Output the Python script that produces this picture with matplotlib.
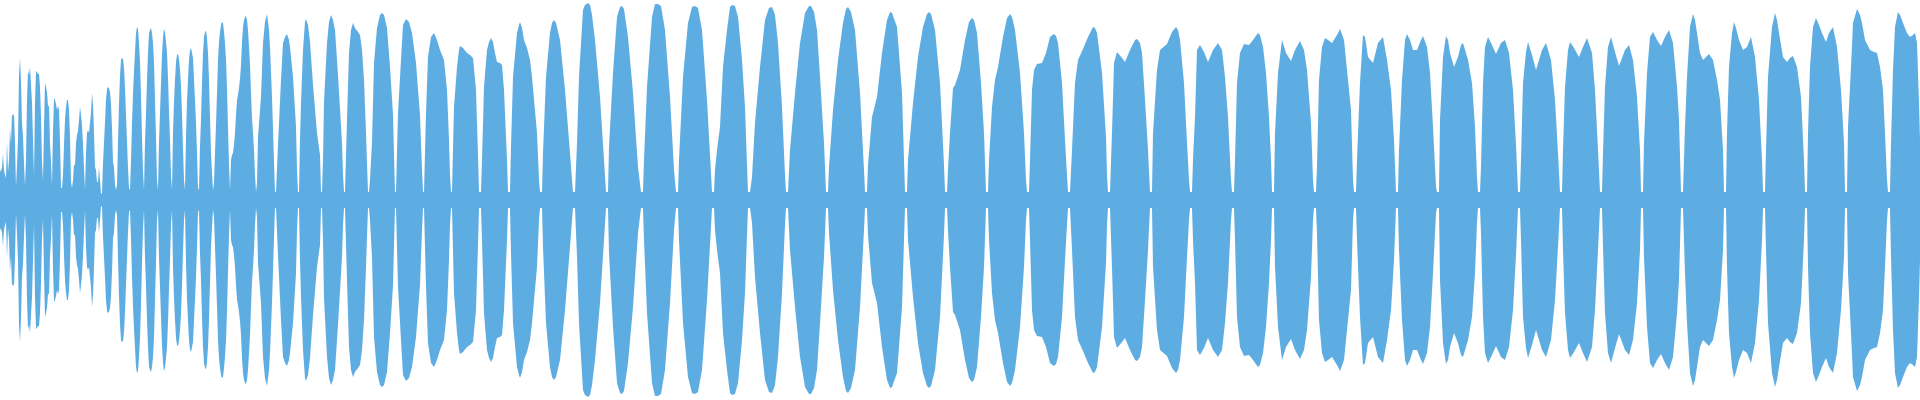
import numpy as np
import matplotlib
matplotlib.use("Agg")
import matplotlib.pyplot as plt

# waveform peak levels (full scale = 200)
# intro: one value per sample column 0..255
level_intro = [
    28, 30, 32, 46, 30, 25, 22, 58, 28, 40, 71, 56, 86, 84, 86, 56,
    13, 35, 60, 125, 142, 119, 77, 64, 36, 14, 40, 100, 129, 125, 133, 115,
    97, 60, 25, 96, 129, 128, 126, 126, 113, 82, 38, 20, 73, 117, 113, 108,
    94, 94, 56, 38, 15, 69, 102, 100, 96, 90, 94, 90, 59, 12, 12, 25,
    55, 80, 93, 100, 100, 90, 63, 18, 12, 20, 35, 35, 57, 65, 69, 80,
    93, 85, 75, 55, 32, 10, 47, 67, 70, 67, 77, 87, 107, 95, 67, 33,
    30, 18, 18, 33, 20, 6, 7, 37, 57, 78, 100, 111, 113, 112, 108, 96,
    72, 38, 33, 15, 10, 15, 58, 96, 124, 140, 142, 141, 132, 112, 85, 58,
    32, 12, 10, 38, 77, 106, 129, 148, 167, 173, 171, 157, 138, 104, 63, 29,
    10, 58, 86, 120, 147, 167, 170, 172, 167, 157, 138, 100, 62, 20, 10, 57,
    87, 117, 145, 163, 171, 168, 158, 147, 122, 88, 60, 25, 10, 67, 98, 120,
    138, 145, 146, 141, 130, 114, 87, 51, 20, 10, 63, 99, 121, 140, 150, 152,
    147, 142, 121, 100, 77, 47, 12, 10, 53, 80, 117, 147, 163, 168, 169, 162,
    147, 120, 82, 47, 27, 10, 17, 47, 75, 107, 140, 158, 168, 175, 178, 177,
    168, 157, 140, 112, 72, 35, 10, 40, 45, 47, 55, 67, 85, 100, 105, 112,
    121, 135, 158, 173, 180, 183, 184, 180, 170, 153, 135, 107, 82, 67, 50, 25,
]

# middle section: (sample, level) key points, one lobe per line
points_mid = [
    (256, 8), (257, 17), (258, 63), (261, 103), (263, 157), (265, 178), (267, 186), (269, 170), (270, 153), (272, 103), (274, 38), (275, 8),
    (276, 8), (278, 55), (281, 120), (283, 157), (285, 163), (287, 166), (289, 160), (290, 153), (293, 123), (296, 73), (297, 30), (298, 8),
    (299, 8), (300, 60), (301, 97), (303, 150), (305, 178), (306, 181), (308, 175), (310, 158), (313, 115), (317, 67), (320, 45), (321, 8),
    (322, 8), (323, 40), (324, 98), (327, 157), (329, 178), (331, 185), (333, 180), (335, 170), (338, 125), (342, 57), (343, 25), (344, 8),
    (345, 8), (347, 80), (349, 147), (351, 170), (353, 177), (355, 172), (358, 168), (360, 165), (362, 150), (364, 120), (366, 67), (368, 8),
    (369, 8), (370, 20), (372, 58), (374, 137), (377, 172), (380, 185), (382, 187), (384, 185), (387, 172), (390, 133), (393, 85), (394, 45), (395, 8),
    (396, 8), (398, 87), (401, 140), (403, 175), (406, 181), (409, 178), (412, 167), (416, 137), (420, 85), (422, 30), (423, 8),
    (424, 8), (426, 87), (428, 143), (431, 163), (434, 167), (437, 160), (440, 150), (444, 140), (447, 110), (449, 60), (450, 25), (451, 8),
    (452, 8), (454, 93), (457, 133), (459, 150), (460, 154), (463, 152), (467, 147), (470, 145), (473, 142), (476, 110), (478, 45), (479, 8),
    (481, 8), (482, 40), (484, 113), (487, 150), (489, 158), (491, 162), (493, 158), (495, 147), (497, 138), (500, 137), (502, 135), (504, 110), (507, 40), (508, 8),
    (510, 8), (511, 53), (513, 123), (517, 167), (519, 175), (520, 178), (522, 172), (524, 160), (527, 152), (530, 140), (532, 123), (537, 67), (539, 20), (540, 8),
    (542, 8), (543, 47), (546, 123), (550, 167), (552, 177), (554, 180), (556, 177), (560, 160), (565, 110), (570, 47), (572, 20), (573, 8),
    (575, 8), (577, 57), (579, 123), (583, 190), (585, 195), (588, 197), (590, 195), (592, 185), (595, 160), (600, 103), (604, 40), (606, 8),
    (608, 8), (609, 53), (613, 127), (617, 183), (620, 193), (622, 194), (624, 191), (628, 163), (633, 107), (638, 33), (641, 8),
    (643, 8), (644, 40), (647, 113), (652, 183), (655, 196), (658, 196), (661, 194), (665, 170), (670, 103), (674, 30), (676, 8),
    (678, 8), (679, 40), (683, 123), (688, 177), (692, 193), (695, 194), (698, 192), (702, 170), (707, 100), (711, 27), (712, 8),
    (714, 8), (715, 30), (717, 50), (720, 73), (723, 133), (727, 170), (730, 193), (732, 195), (735, 194), (738, 183), (742, 140), (745, 93), (747, 35), (748, 8),
    (750, 8), (752, 23), (755, 77), (760, 133), (765, 180), (769, 192), (772, 193), (775, 185), (778, 157), (782, 93), (785, 25), (786, 8),
    (788, 8), (790, 50), (795, 107), (800, 157), (805, 187), (809, 194), (811, 194), (814, 188), (817, 170), (820, 123), (824, 57), (826, 8),
    (828, 8), (829, 33), (833, 90), (838, 140), (843, 177), (846, 191), (848, 193), (851, 188), (855, 170), (860, 107), (864, 30), (865, 8),
    (867, 8), (868, 35), (872, 83), (877, 103), (882, 147), (887, 180), (890, 188), (892, 187), (897, 173), (902, 107), (904, 40), (905, 8),
    (907, 8), (908, 40), (913, 97), (918, 143), (923, 173), (927, 186), (929, 188), (931, 186), (935, 170), (940, 117), (944, 35), (945, 8),
    (947, 8), (948, 30), (950, 67), (953, 112), (955, 115), (960, 130), (965, 160), (969, 178), (972, 182), (974, 180), (977, 167), (981, 117), (984, 67), (986, 8),
]

# late section: (sample, level) key points, one lobe per line
points_late = [
    (988, 8), (989, 40), (992, 93), (995, 120), (998, 133), (1003, 163), (1007, 182), (1010, 186), (1012, 183), (1015, 170), (1020, 127), (1024, 67), (1026, 20), (1027, 8),
    (1029, 8), (1030, 40), (1032, 110), (1034, 130), (1037, 136), (1042, 137), (1046, 147), (1050, 163), (1054, 166), (1056, 164), (1058, 157), (1062, 117), (1065, 60), (1067, 25), (1068, 8),
    (1070, 8), (1072, 50), (1075, 117), (1078, 140), (1083, 151), (1088, 163), (1093, 173), (1095, 172), (1097, 167), (1102, 127), (1106, 63), (1107, 25), (1108, 8),
    (1110, 8), (1112, 67), (1114, 137), (1117, 148), (1122, 142), (1125, 138), (1130, 150), (1135, 160), (1137, 161), (1140, 157), (1142, 147), (1145, 100), (1148, 50), (1150, 8),
    (1152, 8), (1153, 67), (1157, 130), (1160, 150), (1167, 156), (1172, 168), (1176, 173), (1178, 170), (1180, 160), (1184, 117), (1187, 57), (1189, 20), (1190, 8),
    (1192, 8), (1193, 40), (1195, 83), (1197, 150), (1200, 155), (1204, 148), (1208, 138), (1213, 150), (1218, 157), (1222, 150), (1225, 123), (1228, 83), (1231, 20), (1232, 8),
    (1234, 8), (1235, 40), (1237, 117), (1240, 147), (1244, 156), (1249, 155), (1253, 160), (1258, 167), (1260, 165), (1263, 153), (1266, 127), (1269, 83), (1271, 40), (1272, 8),
    (1274, 8), (1275, 67), (1278, 127), (1282, 160), (1286, 147), (1291, 139), (1295, 150), (1300, 159), (1304, 150), (1307, 130), (1311, 77), (1313, 20), (1314, 8),
    (1316, 8), (1317, 33), (1319, 120), (1322, 153), (1325, 162), (1328, 160), (1332, 157), (1337, 165), (1340, 171), (1344, 160), (1347, 130), (1351, 90), (1353, 20), (1354, 8),
    (1356, 8), (1357, 40), (1360, 117), (1363, 165), (1365, 163), (1368, 143), (1373, 137), (1378, 157), (1383, 163), (1387, 140), (1391, 110), (1394, 60), (1396, 8),
    (1398, 8), (1399, 50), (1402, 120), (1405, 160), (1407, 166), (1410, 160), (1413, 150), (1417, 150), (1421, 160), (1423, 164), (1427, 153), (1430, 127), (1433, 73), (1436, 13), (1437, 8),
    (1439, 8), (1440, 80), (1443, 143), (1446, 164), (1448, 160), (1450, 147), (1454, 133), (1458, 143), (1461, 155), (1463, 157), (1468, 140), (1472, 117), (1475, 73), (1477, 23), (1478, 8),
    (1480, 8), (1481, 33), (1483, 117), (1485, 153), (1488, 163), (1492, 155), (1496, 146), (1501, 157), (1505, 160), (1509, 147), (1513, 110), (1516, 55), (1518, 8),
    (1520, 8), (1521, 40), (1523, 117), (1526, 148), (1528, 158), (1532, 145), (1536, 130), (1542, 150), (1546, 157), (1551, 140), (1555, 100), (1558, 47), (1560, 8),
    (1562, 8), (1563, 50), (1565, 113), (1568, 150), (1570, 158), (1574, 152), (1579, 143), (1583, 153), (1587, 162), (1592, 147), (1595, 110), (1598, 50), (1600, 8),
    (1602, 8), (1603, 47), (1605, 113), (1608, 153), (1611, 163), (1615, 148), (1619, 134), (1625, 150), (1629, 155), (1633, 140), (1637, 103), (1640, 50), (1641, 8),
    (1643, 8), (1644, 57), (1647, 127), (1650, 163), (1653, 168), (1657, 160), (1661, 154), (1665, 163), (1669, 170), (1673, 157), (1677, 113), (1679, 80), (1681, 8),
    (1683, 8), (1685, 73), (1687, 123), (1690, 173), (1693, 186), (1695, 180), (1697, 167), (1700, 147), (1703, 140), (1706, 143), (1709, 146), (1713, 140), (1717, 120), (1720, 100), (1723, 50), (1724, 8),
    (1726, 8), (1727, 67), (1729, 133), (1732, 167), (1734, 178), (1736, 172), (1739, 160), (1743, 150), (1747, 153), (1751, 163), (1755, 143), (1759, 100), (1762, 40), (1763, 8),
    (1765, 8), (1766, 50), (1768, 123), (1772, 173), (1775, 187), (1777, 180), (1779, 167), (1783, 143), (1787, 138), (1790, 142), (1793, 144), (1797, 133), (1801, 103), (1804, 40), (1805, 8),
    (1807, 8), (1808, 67), (1810, 133), (1813, 173), (1816, 182), (1819, 175), (1822, 167), (1826, 158), (1829, 167), (1833, 173), (1837, 153), (1841, 110), (1844, 57), (1845, 8),
    (1847, 8), (1848, 73), (1851, 133), (1853, 177), (1857, 191), (1860, 185), (1862, 177), (1865, 160), (1870, 150), (1874, 148), (1877, 147), (1880, 133), (1883, 110), (1885, 67), (1887, 20), (1888, 8),
    (1890, 8), (1891, 57), (1893, 130), (1895, 173), (1898, 188), (1900, 185), (1903, 177), (1907, 167), (1910, 163), (1913, 165), (1915, 167), (1917, 157), (1919, 97), (1920, 60),
]

FULL_SCALE = 200

if __name__ == "__main__":
    mid_x, mid_a = zip(*points_mid)
    late_x, late_a = zip(*points_late)
    x = np.concatenate([np.arange(len(level_intro)), mid_x, late_x])
    amp = np.concatenate([level_intro, mid_a, late_a]).astype(float)

    fig = plt.figure(figsize=(19.2, 4), dpi=100)
    ax = fig.add_axes([0, 0, 1, 1])
    ax.fill_between(x, -amp, amp, color="#5DADE2", linewidth=0)
    ax.set_xlim(0, 1920)
    ax.set_ylim(-FULL_SCALE, FULL_SCALE)
    ax.axis("off")
    fig.savefig("out.png", dpi=100, facecolor="white")
